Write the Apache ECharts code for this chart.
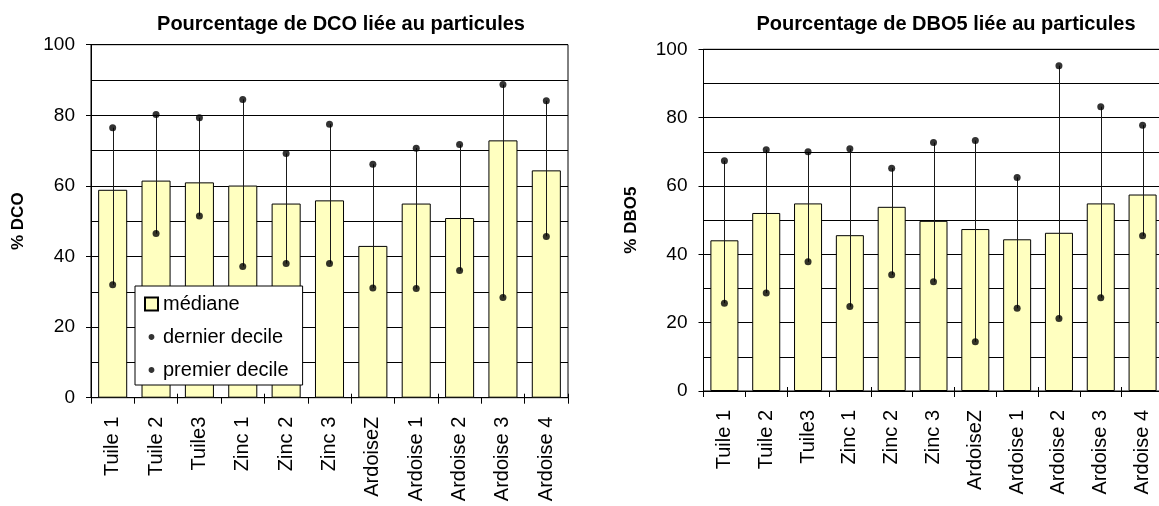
<!DOCTYPE html>
<html>
<head>
<meta charset="utf-8">
<script src="https://cdn.jsdelivr.net/npm/echarts@6/dist/echarts.min.js"></script>
<style>
html,body{margin:0;padding:0;background:#fff;}
#c{width:1159px;height:506px;}
</style>
</head>
<body>
<div id="c"></div>
<script>
const categories = ['Tuile 1','Tuile 2','Tuile3','Zinc 1','Zinc 2','Zinc 3','ArdoiseZ','Ardoise 1','Ardoise 2','Ardoise 3','Ardoise 4'];
const dcoMedian = [58.9,61.5,61.0,60.1,55.0,55.9,43.0,55.0,50.9,72.9,64.4];
const dcoUpper  = [76.5,80.2,79.3,84.5,69.2,77.5,66.1,70.7,71.7,88.7,84.1];
const dcoLower  = [32.0,46.5,51.5,37.2,38.0,38.0,31.1,30.9,36.0,28.4,45.7];
const dboMedian = [44.1,52.1,54.9,45.6,53.9,49.8,47.4,44.4,46.3,54.9,57.5];
const dboUpper  = [67.4,70.6,70.0,70.9,65.2,72.7,73.3,62.5,95.2,83.2,77.8];
const dboLower  = [25.7,28.7,37.8,24.7,34.0,32.0,14.4,24.2,21.2,27.3,45.4];
const yTicks = [0,20,40,60,80,100];

const FONT = 'Arial, "Liberation Sans", sans-serif';
const BAR = '#FFFFC0';
const dotIcon = 'path://M0,0ZM12,12ZM6,3.3C7.5,3.3 8.7,4.5 8.7,6C8.7,7.5 7.5,8.7 6,8.7C4.5,8.7 3.3,7.5 3.3,6C3.3,4.5 4.5,3.3 6,3.3Z';

function whisker(params, api){
  const lo = api.coord([api.value(0), api.value(1)]);
  const hi = api.coord([api.value(0), api.value(2)]);
  const x = Math.round(lo[0]) + 0.5;
  return {type:'line', shape:{x1:x, y1:lo[1], x2:x, y2:hi[1]}, style:{stroke:'#1a1a1a', lineWidth:1}};
}

function xAxis(idx){
  return {
    type:'category', gridIndex:idx, data:categories, boundaryGap:true,
    axisLine:{lineStyle:{color:'#000', width:1}},
    axisTick:{show:true, inside:false, length:6, lineStyle:{color:'#000'}},
    axisLabel:{rotate:90, margin:19, color:'#000', fontSize:20, fontFamily:FONT, interval:0},
    splitLine:{show:false}
  };
}
// companion axis drawing the upper half of Excel-style "cross" tick marks
function xAxisCross(idx){
  return {
    type:'category', gridIndex:idx, data:categories, boundaryGap:true, position:'bottom',
    axisLine:{show:false},
    axisTick:{show:true, inside:true, length:4, lineStyle:{color:'#000'}},
    axisLabel:{show:false},
    splitLine:{show:false}
  };
}
function yAxis(idx, name){
  return {
    type:'value', gridIndex:idx, min:yTicks[0], max:yTicks[yTicks.length-1], interval:yTicks[1]-yTicks[0],
    name:name, nameLocation:'middle', nameRotate:90, nameGap:64,
    nameTextStyle:{fontSize:17, fontWeight:'bold', color:'#000', fontFamily:FONT},
    axisLine:{show:true, lineStyle:{color:'#000', width:1}},
    axisTick:{show:true, inside:false, length:5, lineStyle:{color:'#000'}},
    axisLabel:{color:'#000', fontSize:19, fontFamily:FONT, margin:16},
    splitLine:{show:true, lineStyle:{color:'#000', width:1}},
    minorTick:{show:false, splitNumber:2},
    minorSplitLine:{show:true, lineStyle:{color:'#000', width:1}}
  };
}
function seriesFor(idx, med, lo, hi){
  return [
    {type:'bar', name:'médiane', xAxisIndex:idx, yAxisIndex:idx, data:med, barWidth:'67%',
     itemStyle:{color:BAR, borderColor:'#000', borderWidth:1}, z:2, silent:true},
    {type:'custom', name:'whisker', xAxisIndex:idx, yAxisIndex:idx, renderItem:whisker,
     data:categories.map((c,i)=>[i, lo[i], hi[i]]), encode:{x:0, y:[1,2]}, z:3, silent:true},
    {type:'scatter', name:'dernier decile', xAxisIndex:idx, yAxisIndex:idx, data:hi,
     symbol:'circle', symbolSize:7, itemStyle:{color:'#000'}, z:4, silent:true},
    {type:'scatter', name:'premier decile', xAxisIndex:idx, yAxisIndex:idx, data:lo,
     symbol:'circle', symbolSize:7, itemStyle:{color:'#000'}, z:4, silent:true}
  ];
}

const chart = echarts.init(document.getElementById('c'), null, {renderer:'canvas'});
chart.setOption({
  animation:false,
  backgroundColor:'#fff',
  textStyle:{fontFamily:FONT},
  title:[
    {text:'Pourcentage de DCO liée au particules', left:336, top:9, textAlign:'center',
     textStyle:{fontSize:20, fontWeight:'bold', color:'#000', fontFamily:FONT}},
    {text:'Pourcentage de DBO5 liée au particules', left:941, top:9, textAlign:'center',
     textStyle:{fontSize:20, fontWeight:'bold', color:'#000', fontFamily:FONT}}
  ],
  grid:[
    {left:91, top:44.7, width:477, height:353, show:true, borderColor:'#000', borderWidth:1, backgroundColor:'transparent', containLabel:false, outerBoundsMode:'none'},
    {left:703.5, top:49.3, width:460, height:341.7, show:true, borderColor:'#000', borderWidth:1, backgroundColor:'transparent', containLabel:false, outerBoundsMode:'none'}
  ],
  legend:{
    orient:'vertical', left:135, top:286,
    backgroundColor:'#fff', borderColor:'#000', borderWidth:1, padding:[7,14,4,9],
    itemWidth:13, itemHeight:13, itemGap:11,
    selectedMode:false, z:10,
    textStyle:{fontSize:20, lineHeight:22, color:'#000', fontFamily:FONT},
    data:[
      {name:'médiane', icon:'rect'},
      {name:'dernier decile', icon:dotIcon},
      {name:'premier decile', icon:dotIcon}
    ]
  },
  xAxis:[xAxis(0), xAxis(1), xAxisCross(0), xAxisCross(1)],
  yAxis:[yAxis(0,'% DCO'), yAxis(1,'% DBO5')],
  series:[].concat(seriesFor(0, dcoMedian, dcoLower, dcoUpper), seriesFor(1, dboMedian, dboLower, dboUpper))
});
</script>
</body>
</html>
